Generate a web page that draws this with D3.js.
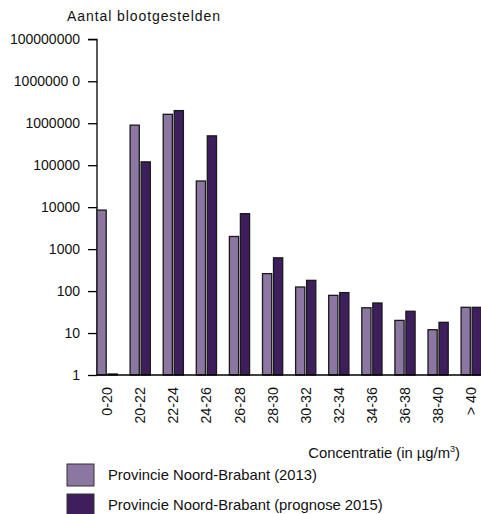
<!DOCTYPE html>
<html><head><meta charset="utf-8">
<script src="https://cdn.jsdelivr.net/npm/d3@7"></script>
<style>body{margin:0;background:#fff}svg{display:block;font-family:"Liberation Sans",Arial,sans-serif}</style>
</head><body><svg id="c" width="481" height="514"></svg>
<script>
const categories = ["0-20","20-22","22-24","24-26","26-28","28-30","30-32","32-34","34-36","36-38","38-40","> 40"];
const values2013 = [8500, 900000, 1630000, 42000, 2000, 260, 125, 79, 40, 20, 12, 41];
const values2015 = [1, 120000, 2000000, 500000, 7000, 620, 180, 92, 52, 33, 18, 41];
const seriesNames = ["Provincie Noord-Brabant (2013)", "Provincie Noord-Brabant (prognose 2015)"];
const tickValues = [1,10,100,1000,10000,100000,1000000,10000000,100000000];
const tickLabels = ["1","10","100","1000","10000","100000","1000000","1000000 0","100000000"];
const colors = ["#8b77a1", "#3e1e5d"];

const svg = d3.select("#c");
const x0 = 97, yTop = 39.3, yBot = 375, step = 33.1;
const x = d3.scaleBand().domain(categories).range([x0, x0 + step*categories.length]).paddingInner(0).paddingOuter(0);
const y = d3.scaleLog().domain([1, 1e8]).range([yBot, yTop]);
const barW = 9.2, gap = 1.8;

// y axis
const yAxis = d3.axisLeft(y).tickValues(tickValues).tickFormat((d,i)=>tickLabels[i]).tickSize(9).tickPadding(8);
const gy = svg.append("g").attr("transform",`translate(${x0},0)`).call(yAxis);
gy.select(".domain").attr("stroke","#000").attr("stroke-width",1.3).attr("d",`M-9,${yTop}H0V${yBot}`);
gy.selectAll(".tick line").attr("stroke","#000").attr("stroke-width",1.3);
gy.selectAll(".tick text").attr("font-size",14).attr("fill","#111").attr("font-family","Liberation Sans, Arial, sans-serif");

// bars
const series = [values2013, values2015];
series.forEach((vals, s) => {
  svg.append("g").selectAll("rect").data(categories).join("rect")
    .attr("x", d => x(d) + s*(barW+gap))
    .attr("y", (d,i) => y(vals[i]) - (vals[i] <= 1 ? 1 : 0))
    .attr("width", barW)
    .attr("height", (d,i) => Math.max(1, yBot - y(vals[i])))
    .attr("fill", colors[s])
    .attr("stroke", "#1a1a1a").attr("stroke-width", 1.3);
});

// x axis line
svg.append("line").attr("x1",x0).attr("x2",481).attr("y1",yBot).attr("y2",yBot).attr("stroke","#000").attr("stroke-width",1.5);

// x labels rotated
svg.append("g").selectAll("text").data(categories).join("text")
  .attr("transform", d => `translate(${x(d) + barW + gap/2 + 5},387) rotate(-90)`)
  .attr("text-anchor","end")
  .attr("font-size",14.3).attr("fill","#111")
  .text(d => d);

// y title
svg.append("text").attr("x",67).attr("y",21).attr("font-size",14).attr("fill","#111")
  .attr("textLength",153).text("Aantal blootgestelden");

// x title
const xt = svg.append("text").attr("x",460).attr("y",458).attr("text-anchor","end").attr("font-size",14.8).attr("fill","#111");
xt.append("tspan").text("Concentratie (in µg/m");
xt.append("tspan").attr("font-size",9).attr("dy",-6).text("3");
xt.append("tspan").attr("dy",6).text(")");

// legend
const lg = svg.append("g");
seriesNames.forEach((n,i) => {
  lg.append("rect").attr("x",67).attr("y",464 + i*30).attr("width",27).attr("height",22)
    .attr("fill",colors[i]).attr("stroke","#333").attr("stroke-width",1);
  lg.append("text").attr("x",108).attr("y",480 + i*30).attr("font-size",14.8).attr("fill","#111").text(n);
});
</script></body></html>
